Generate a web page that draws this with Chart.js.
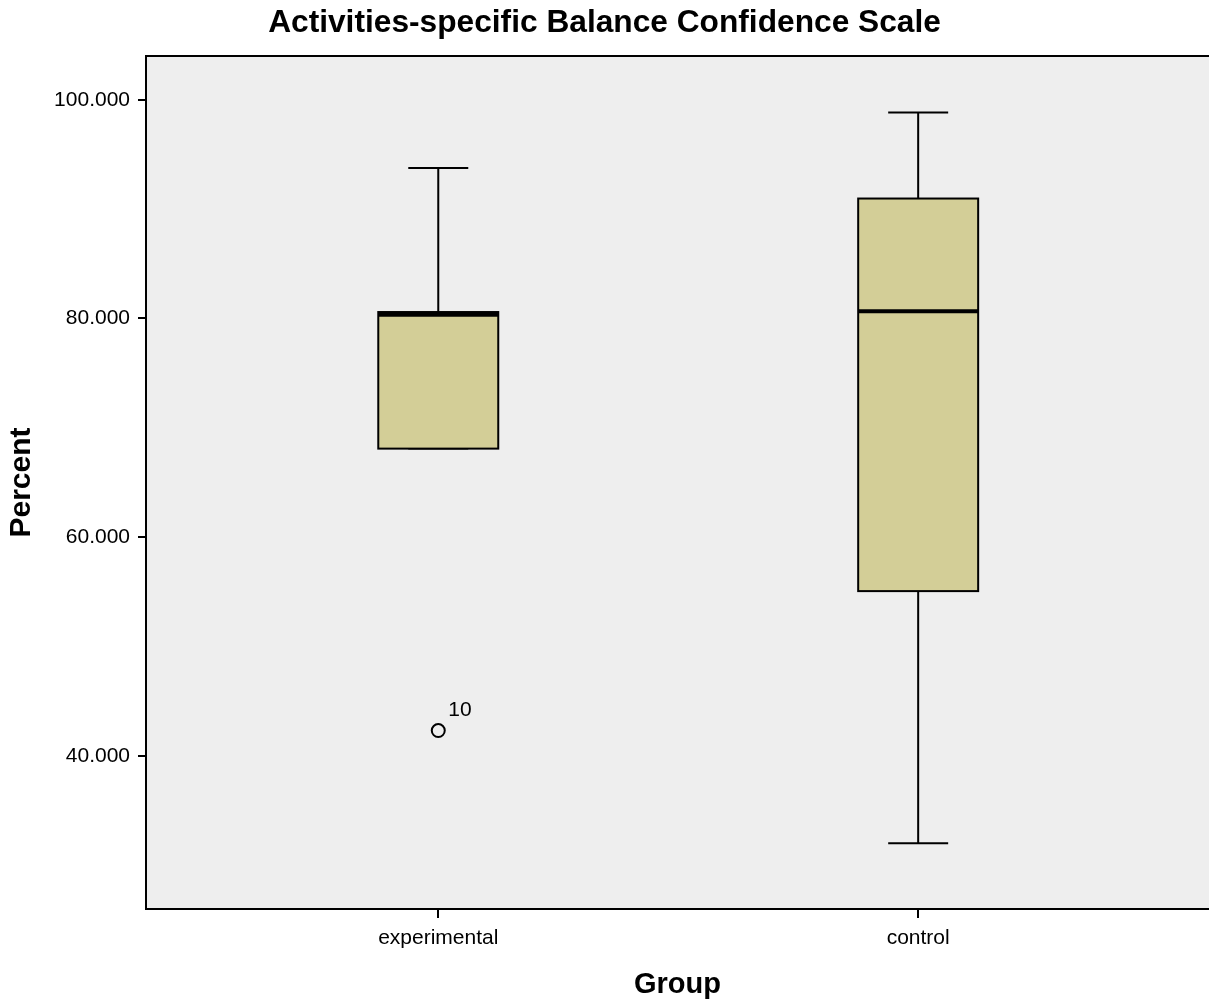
<!DOCTYPE html>
<html lang="en">
<head>
  <meta charset="UTF-8">
  <title>Activities-specific Balance Confidence Scale</title>
  <style>
    html, body { margin: 0; padding: 0; background: #ffffff; }
    canvas { display: block; }
  </style>
</head>
<body>
  <canvas id="chart" width="1209" height="1007"></canvas>

  <script src="https://cdn.jsdelivr.net/npm/chart.js"></script>

  <script>
    // Data
    const groups = ["experimental", "control"];
    const whiskerLow = [68.10, 32.01];
    const q1 = [68.10, 55.07];
    const median = [80.34, 80.66];
    const q3 = [80.59, 90.97];
    const whiskerHigh = [93.77, 98.84];
    const outlierGroup = [0];
    const outlierValue = [42.32];
    const outlierId = ["10"];
    const yTicks = [40, 60, 80, 100];

    const FONT = "'Liberation Sans', Arial, sans-serif";
    const BOX_FILL = "#d3ce97";
    const PLOT_BG = "#eeeeee";
    const BOX_HALF = 0.125;
    const CAP_HALF = 0.0625;

    // Draw boxes, whiskers and frame through the chart's scales
    const boxPlugin = {
      id: "boxes",
      beforeDatasetsDraw(chart) {
        const { ctx, chartArea, scales } = chart;
        const x = scales.x, y = scales.y;
        ctx.save();
        ctx.fillStyle = PLOT_BG;
        ctx.fillRect(chartArea.left, chartArea.top, chartArea.right - chartArea.left, chartArea.bottom - chartArea.top);

        ctx.strokeStyle = "#000000";
        groups.forEach((g, i) => {
          const cx = x.getPixelForValue(i + 1);
          const bl = x.getPixelForValue(i + 1 - BOX_HALF);
          const br = x.getPixelForValue(i + 1 + BOX_HALF);
          const cl = x.getPixelForValue(i + 1 - CAP_HALF);
          const cr = x.getPixelForValue(i + 1 + CAP_HALF);
          const yq1 = y.getPixelForValue(q1[i]);
          const yq3 = y.getPixelForValue(q3[i]);
          const ylo = y.getPixelForValue(whiskerLow[i]);
          const yhi = y.getPixelForValue(whiskerHigh[i]);
          const ymed = y.getPixelForValue(median[i]);

          // whiskers
          ctx.lineWidth = 2;
          ctx.beginPath();
          ctx.moveTo(cx, yq3); ctx.lineTo(cx, yhi);
          ctx.moveTo(cl, yhi); ctx.lineTo(cr, yhi);
          ctx.moveTo(cx, yq1); ctx.lineTo(cx, ylo);
          ctx.moveTo(cl, ylo); ctx.lineTo(cr, ylo);
          ctx.stroke();

          // box
          ctx.fillStyle = BOX_FILL;
          ctx.fillRect(bl, yq3, br - bl, yq1 - yq3);
          ctx.strokeRect(bl, yq3, br - bl, yq1 - yq3);

          // median
          ctx.lineWidth = 4;
          ctx.beginPath();
          ctx.moveTo(bl, ymed); ctx.lineTo(br, ymed);
          ctx.stroke();
        });

        // frame (top, left, bottom)
        ctx.lineWidth = 2;
        ctx.beginPath();
        ctx.moveTo(chartArea.right, chartArea.top);
        ctx.lineTo(chartArea.left, chartArea.top);
        ctx.lineTo(chartArea.left, chartArea.bottom);
        ctx.lineTo(chartArea.right, chartArea.bottom);
        ctx.stroke();
        ctx.restore();
      },
      afterDatasetsDraw(chart) {
        const { ctx } = chart;
        const pts = chart.getDatasetMeta(0).data;
        ctx.save();
        ctx.fillStyle = "#000000";
        ctx.font = "21px " + FONT;
        ctx.textAlign = "left";
        ctx.textBaseline = "middle";
        pts.forEach((p, i) => {
          ctx.fillText(outlierId[i], p.x + 10, p.y - 20);
        });
        ctx.restore();
      }
    };

    new Chart(document.getElementById("chart"), {
      type: "scatter",
      data: {
        datasets: [{
          label: "Outliers",
          data: outlierGroup.map((g, i) => ({ x: g + 1, y: outlierValue[i] })),
          pointStyle: "circle",
          pointRadius: 6.5,
          pointBorderWidth: 2,
          pointBorderColor: "#000000",
          pointBackgroundColor: PLOT_BG,
        }],
      },
      options: {
        responsive: false,
        animation: false,
        layout: { padding: 0, autoPadding: false },
        plugins: {
          legend: { display: false },
          tooltip: { enabled: false },
          title: {
            display: true,
            text: "Activities-specific Balance Confidence Scale",
            color: "#000000",
            font: { family: FONT, size: 31.7, weight: "bold", lineHeight: 1.2 },
            padding: { top: 4, bottom: 14 },
          },
        },
        scales: {
          x: {
            type: "linear",
            min: 0.391,
            max: 2.606,
            afterBuildTicks: (scale) => {
              scale.ticks = groups.map((g, i) => ({ value: i + 1 }));
            },
            afterFit: (scale) => {
              scale.height = 98;
              scale.paddingLeft = 0;
              scale.paddingRight = 0;
            },
            ticks: {
              color: "#000000",
              font: { family: FONT, size: 21 },
              padding: 8,
              maxRotation: 0,
              autoSkip: false,
              callback: (v) => groups[v - 1],
            },
            grid: {
              drawOnChartArea: false,
              drawTicks: true,
              tickLength: 9,
              color: "#000000",
              lineWidth: 2,
            },
            border: { display: false },
            title: {
              display: true,
              text: "Group",
              color: "#000000",
              font: { family: FONT, size: 29, weight: "bold", lineHeight: 1.2 },
              padding: { top: 0, bottom: 5 },
            },
          },
          y: {
            min: 26,
            max: 104,
            afterBuildTicks: (scale) => {
              scale.ticks = yTicks.map(v => ({ value: v }));
            },
            afterFit: (scale) => {
              scale.width = 146;
              scale.paddingTop = 0;
              scale.paddingBottom = 0;
            },
            ticks: {
              color: "#000000",
              font: { family: FONT, size: 21 },
              padding: 8,
              callback: (v) => Number(v).toFixed(3),
            },
            grid: {
              drawOnChartArea: false,
              drawTicks: true,
              tickLength: 8,
              color: "#000000",
              lineWidth: 2,
            },
            border: { display: false },
            title: {
              display: true,
              text: "Percent",
              color: "#000000",
              font: { family: FONT, size: 30, weight: "bold", lineHeight: 1.2 },
              padding: { top: 4, bottom: 0 },
            },
          },
        },
      },
      plugins: [boxPlugin],
    });
  </script>
</body>
</html>
